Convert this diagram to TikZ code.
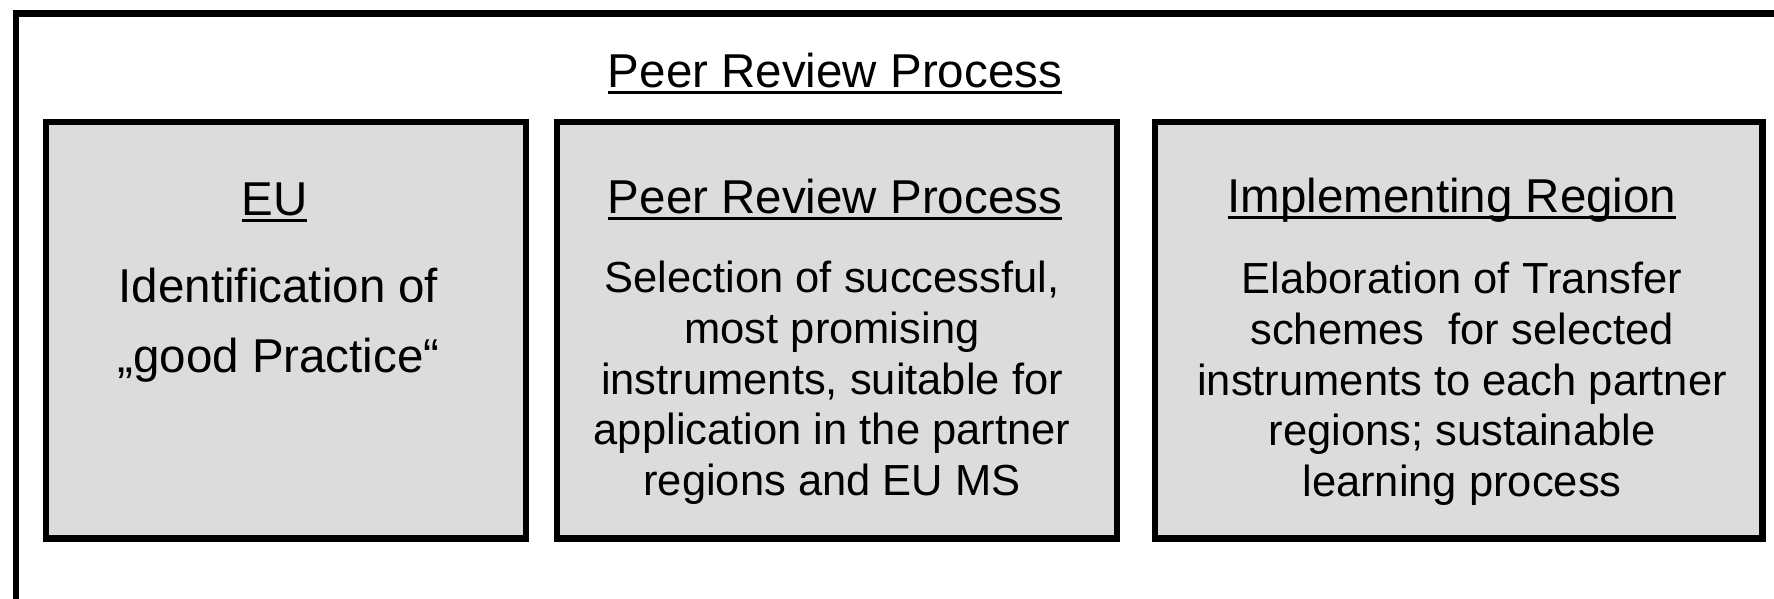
\documentclass[tikz,border=0pt]{standalone}
\usepackage{fontspec}
\setmainfont{Liberation Sans}
\definecolor{boxgray}{RGB}{220,220,220}
\newcommand{\ulx}[1]{\setbox0=\hbox{#1}\rlap{\rule[-7.3pt]{\wd0}{3pt}}\box0}
\tikzset{
  framebox/.style={draw, line width=6.7pt, inner sep=0pt},
  greybox/.style={draw, line width=6.5pt, fill=boxgray, inner sep=0pt, minimum height=416.5pt},
  headtext/.style={font=\fontsize{47.5}{57}\selectfont, anchor=base, inner sep=0pt},
  bodytext/.style={font=\fontsize{43.5}{50.7}\selectfont, align=center, anchor=north, inner sep=0pt},
  bigbody/.style={font=\fontsize{47.5}{70}\selectfont, align=center, anchor=north, inner sep=0pt}
}
\begin{document}
\begin{tikzpicture}[x=1pt,y=-1pt]
\useasboundingbox (0,0) rectangle (1774,598);
\clip (0,0) rectangle (1774,598);
\fill[white] (0,0) rectangle (1774,598);
% outer frame (right and bottom sides lie outside the picture)
\node[framebox, minimum width=1800pt, minimum height=620pt, anchor=north west] (outer) at (12.5,10) {};
% title
\node[headtext] (title) at (835,87) {\ulx{Peer Review Process}};
% boxes
\node[greybox, minimum width=480pt] (eu) at (286,330.25) {};
\node[greybox, minimum width=560pt] (prp) at (837,330.25) {};
\node[greybox, minimum width=607.5pt] (impl) at (1458.75,330.25) {};
% headings
\node[headtext] (euhead) at (274.5,215) {\ulx{EU}};
\node[headtext] (prphead) at (835,213) {\ulx{Peer Review Process}};
\node[headtext] (implhead) at (1452,212) {\ulx{Implementing Region}};
% bodies
\node[bigbody] (eubody) at (278.5,268) {Identification of\\„good Practice“};
\node[bodytext] (prpbody) at (832,261) {Selection of successful,\\most promising\\instruments, suitable for\\application in the partner\\regions and EU MS};
\node[bodytext] (implbody) at (1462,262) {Elaboration of Transfer\\schemes\ \ for selected\\instruments to each partner\\regions; sustainable\\learning process};
\end{tikzpicture}
\end{document}
